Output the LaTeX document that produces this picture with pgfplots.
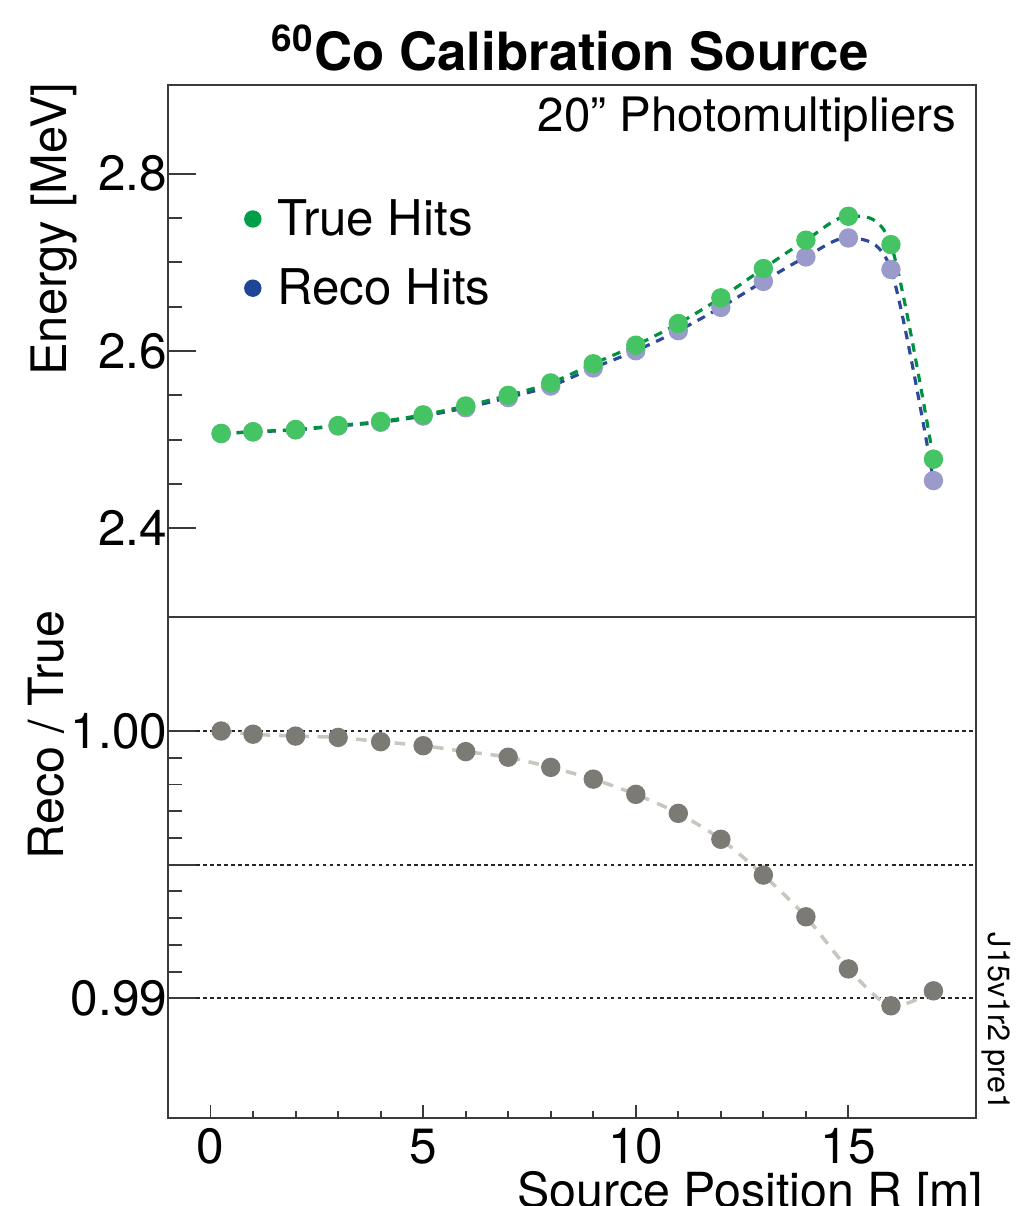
\documentclass[border=0pt]{standalone}
\usepackage{pgfplots}
\usepackage{pgfplotstable}
\pgfplotsset{compat=1.18}
\usepackage{fontspec}
\setmainfont{TeX Gyre Heros}

\definecolor{truept}{HTML}{45C463}
\definecolor{trueline}{HTML}{00913F}
\definecolor{recopt}{HTML}{9A9BCB}
\definecolor{recoline}{HTML}{2B4A9C}
\definecolor{leggreen}{HTML}{00A04A}
\definecolor{legblue}{HTML}{1F4596}
\definecolor{ratiopt}{HTML}{7B7A75}
\definecolor{ratioline}{HTML}{C9C6BF}
\definecolor{axiscol}{HTML}{3A3A3A}

\pgfplotstableread{
x     true    reco    ratio
0.25  2.5070  2.5070  1.00000
1     2.5090  2.5087  0.99988
2     2.5115  2.5110  0.99981
3     2.5160  2.5154  0.99976
4     2.5206  2.5196  0.99960
5     2.5280  2.5266  0.99945
6     2.5380  2.5360  0.99923
7     2.5500  2.5475  0.99902
8     2.5640  2.5605  0.99864
9     2.5856  2.5809  0.99820
10    2.6065  2.6003  0.99763
11    2.6310  2.6229  0.99692
12    2.6600  2.6492  0.99595
13    2.6930  2.6785  0.99461
14    2.7250  2.7061  0.99305
15    2.7520  2.7275  0.99110
16    2.7200  2.6920  0.98972
17    2.4780  2.4539  0.99028
}\data

\pgfplotsset{
  commonstyle/.style={
    scale only axis,
    width=8.08cm,
    xmin=-1, xmax=18,
    tick align=inside,
    ytick pos=left,
    axis line style={draw=axiscol, line width=0.55pt},
    every tick/.style={axiscol, line width=0.55pt},
    major tick length=0.28cm,
    minor tick length=0.14cm,
    /pgf/number format/assume math mode=true,
    tick label style={font=\fontsize{14.1}{16}\selectfont},
    yticklabel style={inner sep=0pt, xshift=0cm},
    xticklabel style={inner sep=0pt, yshift=-0.10cm},
    clip=false,
  }
}

\begin{document}
\begin{tikzpicture}
\useasboundingbox (0,0) rectangle (10.20,-12.06);

% ---------- top panel ----------
\begin{axis}[commonstyle,
  at={(1.68cm,-6.17cm)}, anchor=south west,
  height=5.32cm,
  ymin=2.3, ymax=2.9,
  xtick=\empty,
  ytick={2.4,2.6,2.8}, yticklabels={2.4,2.6,2.8},
  minor y tick num=3,
  legend style={draw=none, fill=none, at={(axis cs:0.75,2.7797)}, anchor=north west,
    font=\fontsize{14}{16}\selectfont, row sep=0.14cm, inner sep=0pt},
  legend cell align=left,
]
\addlegendimage{legend image code/.code={\path (0,0) (0.26cm,0); \fill[leggreen] (0.09cm,0.01cm) circle (0.08cm);}}
\addlegendentry{True Hits}
\addlegendimage{legend image code/.code={\path (0,0) (0.26cm,0); \fill[legblue] (0.09cm,0.01cm) circle (0.08cm);}}
\addlegendentry{Reco Hits}

\addplot[forget plot, recoline, dash pattern=on 2.4pt off 2pt, line width=0.9pt, smooth, tension=0.5] table[x=x, y=reco] {\data};
\addplot[forget plot, only marks, mark=*, mark size=0.09cm, mark options={draw=recopt, fill=recopt}] table[x=x, y=reco] {\data};
\addplot[forget plot, trueline, dash pattern=on 2.4pt off 2pt, line width=0.9pt, smooth, tension=0.5] table[x=x, y=true] {\data};
\addplot[forget plot, only marks, mark=*, mark size=0.09cm, mark options={draw=truept, fill=truept}] table[x=x, y=true] {\data};
\end{axis}

% ---------- bottom panel ----------
\begin{axis}[commonstyle,
  at={(1.68cm,-11.18cm)}, anchor=south west,
  height=5.01cm,
  ymin=0.985522, ymax=1.004265,
  xtick={0,5,10,15}, xticklabels={0,5,10,15},
  minor x tick num=4,
  xtick pos=bottom,
  ytick={0.99,0.995,1.0}, yticklabels={0.99,,1.00},
  minor y tick num=4,
  ymajorgrids=true,
  major grid style={black!85, line width=0.6pt, dash pattern=on 1pt off 1pt},
  x tick style={/pgfplots/major tick length=0.135cm, /pgfplots/minor tick length=0.07cm},
]
\addplot[ratioline, dash pattern=on 3pt off 2.5pt, line width=1pt, smooth, tension=0.5] table[x=x, y=ratio] {\data};
\addplot[only marks, mark=*, mark size=0.09cm, mark options={draw=ratiopt, fill=ratiopt}] table[x=x, y=ratio] {\data};
\end{axis}

% ---------- titles and labels ----------
\node[anchor=base, font=\fontsize{15}{18}\selectfont\bfseries, inner sep=0pt] at (5.70,-0.70) {\textsuperscript{60}Co Calibration Source};
\node[anchor=base east, font=\fontsize{13.5}{16}\selectfont, inner sep=0pt] at (9.57,-1.31) {20” Photomultipliers};
\node[rotate=90, anchor=base east, font=\fontsize{13.9}{16}\selectfont, inner sep=0pt] at (0.67,-0.82) {Energy [MeV]};
\node[rotate=90, anchor=base east, font=\fontsize{13.8}{16}\selectfont, inner sep=0pt] at (0.63,-6.10) {Reco / True};
\node[anchor=base east, font=\fontsize{13.75}{16}\selectfont, inner sep=0pt] at (9.84,-12.07) {Source Position R [m]};
\node[rotate=-90, anchor=base west, font=\fontsize{8.7}{10}\selectfont, inner sep=0pt] at (9.88,-9.32) {J15v1r2 pre1};
\end{tikzpicture}
\end{document}
